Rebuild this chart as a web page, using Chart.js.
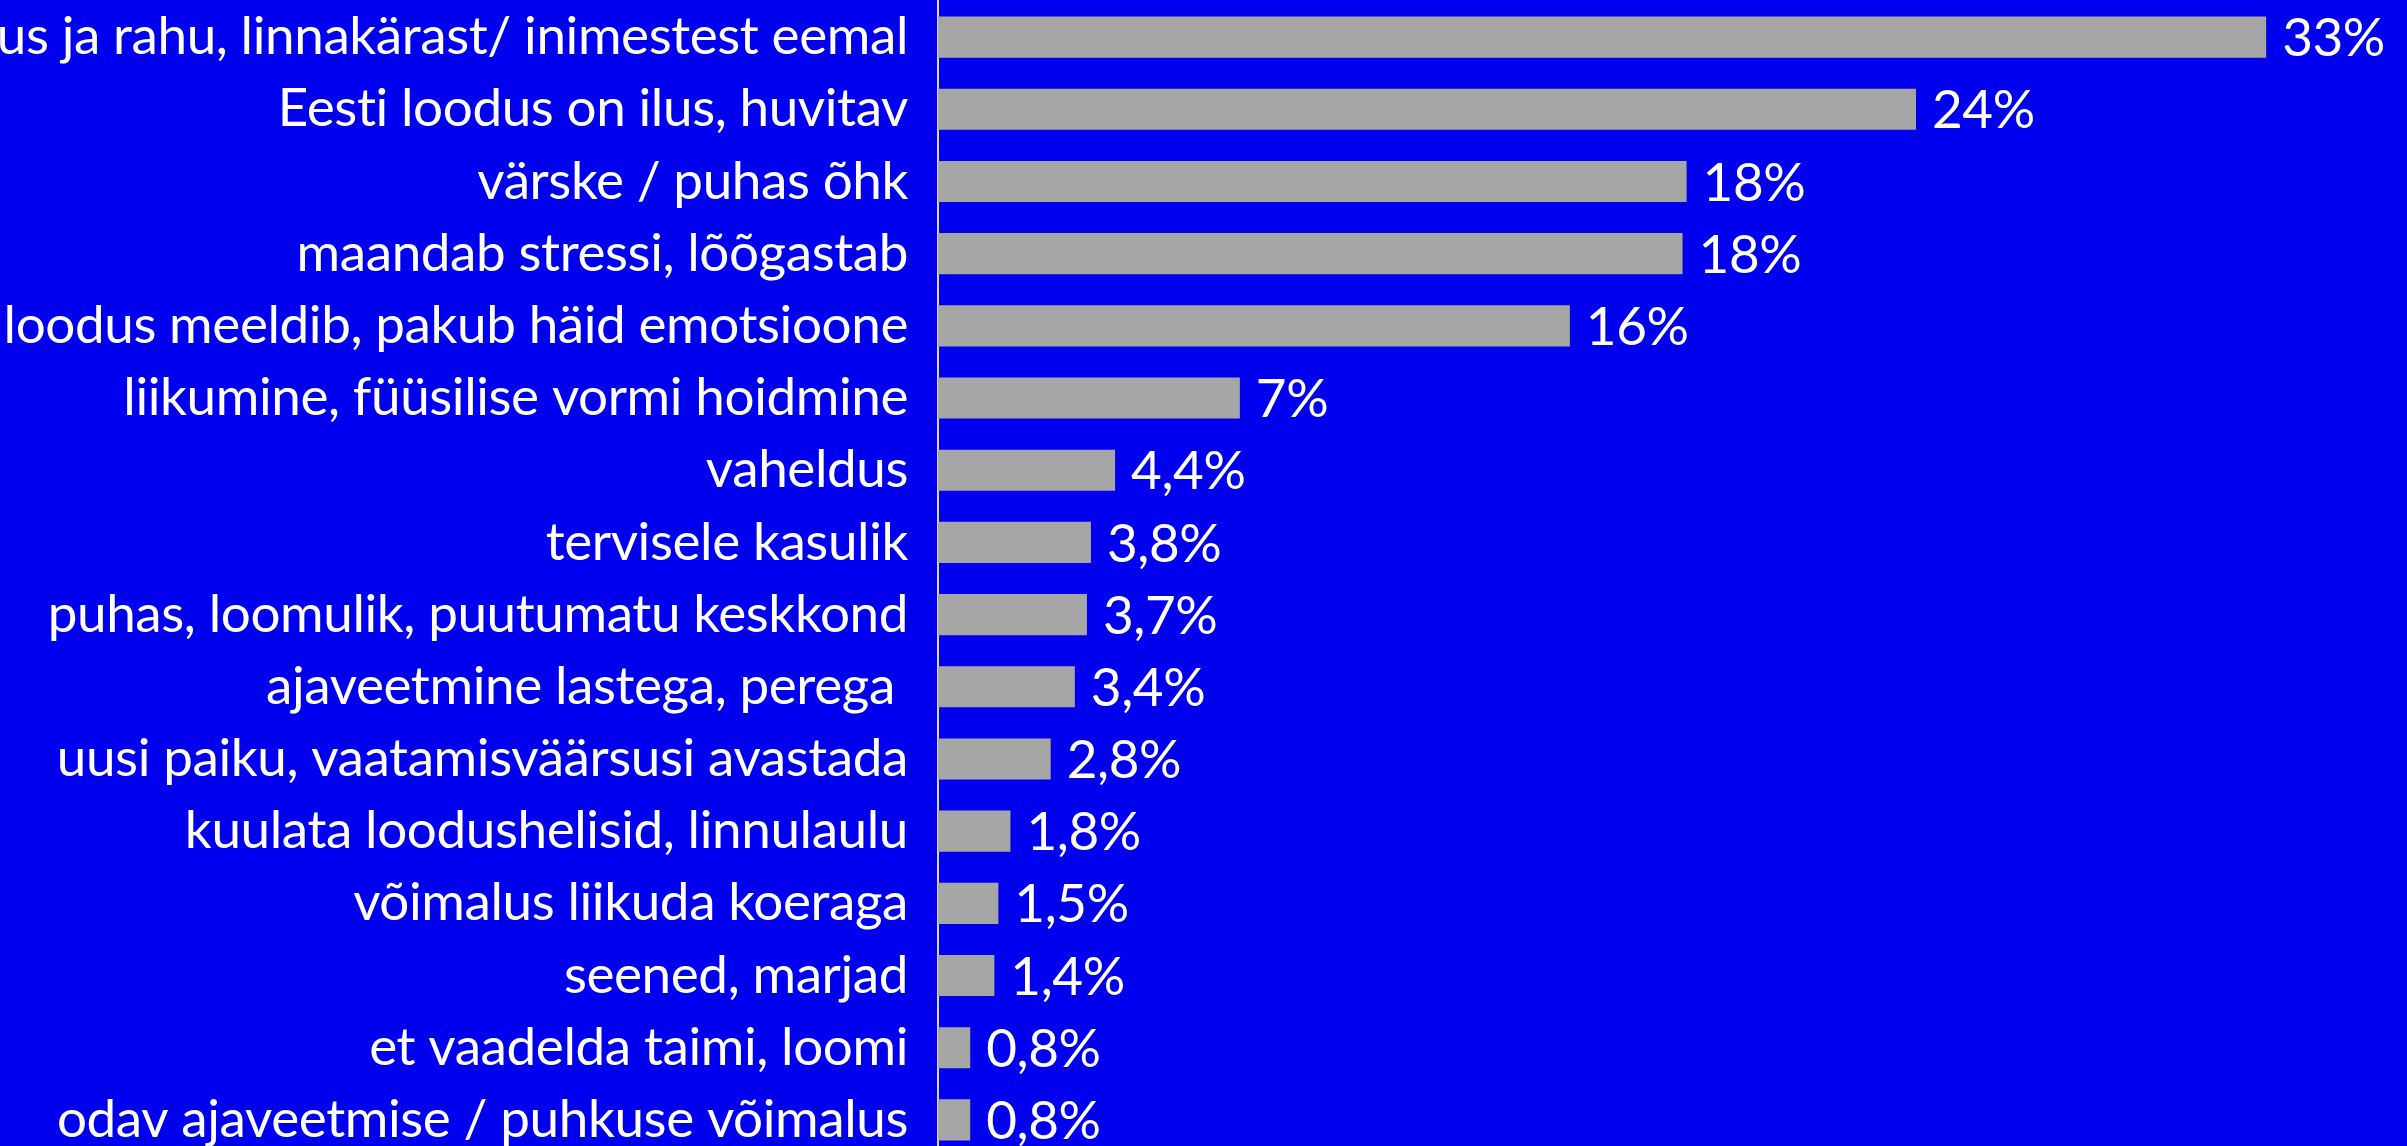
<!DOCTYPE html>
<html lang="et">
<head>
    <meta charset="UTF-8">
    <title>Miks meeldib looduses käia</title>
    <style>
        html, body {
            margin: 0;
            padding: 0;
            background: #0000EE;
            overflow: hidden;
        }
        #wrap {
            position: relative;
            width: 2407px;
            height: 1156px;
        }
    </style>
    <script src="https://cdn.jsdelivr.net/npm/chart.js"></script>
</head>
<body>
    <div id="wrap"><canvas id="chart"></canvas></div>

    <script>
        const categories = [
            'Vaikus ja rahu, linnakärast/ inimestest eemal',
            'Eesti loodus on ilus, huvitav',
            'värske / puhas õhk',
            'maandab stressi, lõõgastab',
            'loodus meeldib, pakub häid emotsioone',
            'liikumine, füüsilise vormi hoidmine',
            'vaheldus',
            'tervisele kasulik',
            'puhas, loomulik, puutumatu keskkond',
            'ajaveetmine lastega, perega ',
            'uusi paiku, vaatamisväärsusi avastada',
            'kuulata loodushelisid, linnulaulu',
            'võimalus liikuda koeraga',
            'seened, marjad',
            'et vaadelda taimi, loomi',
            'odav ajaveetmise / puhkuse võimalus'
        ];
        // bar lengths (percent)
        const values = [33.0, 24.3, 18.6, 18.5, 15.7, 7.5, 4.4, 3.8, 3.7, 3.4, 2.8, 1.8, 1.5, 1.4, 0.8, 0.8];
        // the labels as printed next to the bars
        const valueTexts = ['33%', '24%', '18%', '18%', '16%', '7%', '4,4%', '3,8%', '3,7%', '3,4%', '2,8%', '1,8%', '1,5%', '1,4%', '0,8%', '0,8%'];

        const fontFamily = 'Lato, "Open Sans", sans-serif';
        const fontSize = 53;

        // slightly tighter text, no ligatures
        const tightText = {
            id: 'tightText',
            beforeDraw(chart) {
                chart.ctx.letterSpacing = '-0.4px';
            }
        };

        // writes the percentage right of each bar
        const valueLabels = {
            id: 'valueLabels',
            afterDatasetsDraw(chart) {
                const ctx = chart.ctx;
                const meta = chart.getDatasetMeta(0);
                ctx.save();
                ctx.fillStyle = '#ffffff';
                ctx.font = fontSize + 'px ' + fontFamily;
                ctx.textAlign = 'left';
                ctx.textBaseline = 'middle';
                meta.data.forEach((bar, i) => {
                    ctx.fillText(valueTexts[i], bar.x + 16, bar.y + 2);
                });
                ctx.restore();
            }
        };

        new Chart(document.getElementById('chart'), {
            type: 'bar',
            data: {
                labels: categories,
                datasets: [{
                    data: values,
                    backgroundColor: '#A6A6A6',
                    borderWidth: 0,
                    barPercentage: 0.57,
                    categoryPercentage: 1
                }]
            },
            options: {
                indexAxis: 'y',
                responsive: true,
                maintainAspectRatio: false,
                animation: false,
                layout: { padding: { top: 1, right: 0, bottom: 0, left: 0 } },
                plugins: {
                    legend: { display: false },
                    tooltip: { enabled: false }
                },
                scales: {
                    x: {
                        display: false,
                        min: 0,
                        max: 36.5
                    },
                    y: {
                        afterFit(scale) {
                            scale.width = 938;
                            scale.paddingTop = 0;
                            scale.paddingBottom = 0;
                        },
                        grid: { display: false, drawTicks: false },
                        border: { display: true, color: '#D6D6E8', width: 2 },
                        ticks: {
                            autoSkip: false,
                            padding: 30,
                            color: '#ffffff',
                            font: { family: fontFamily, size: fontSize }
                        }
                    }
                }
            },
            plugins: [tightText, valueLabels]
        });
    </script>
</body>
</html>
